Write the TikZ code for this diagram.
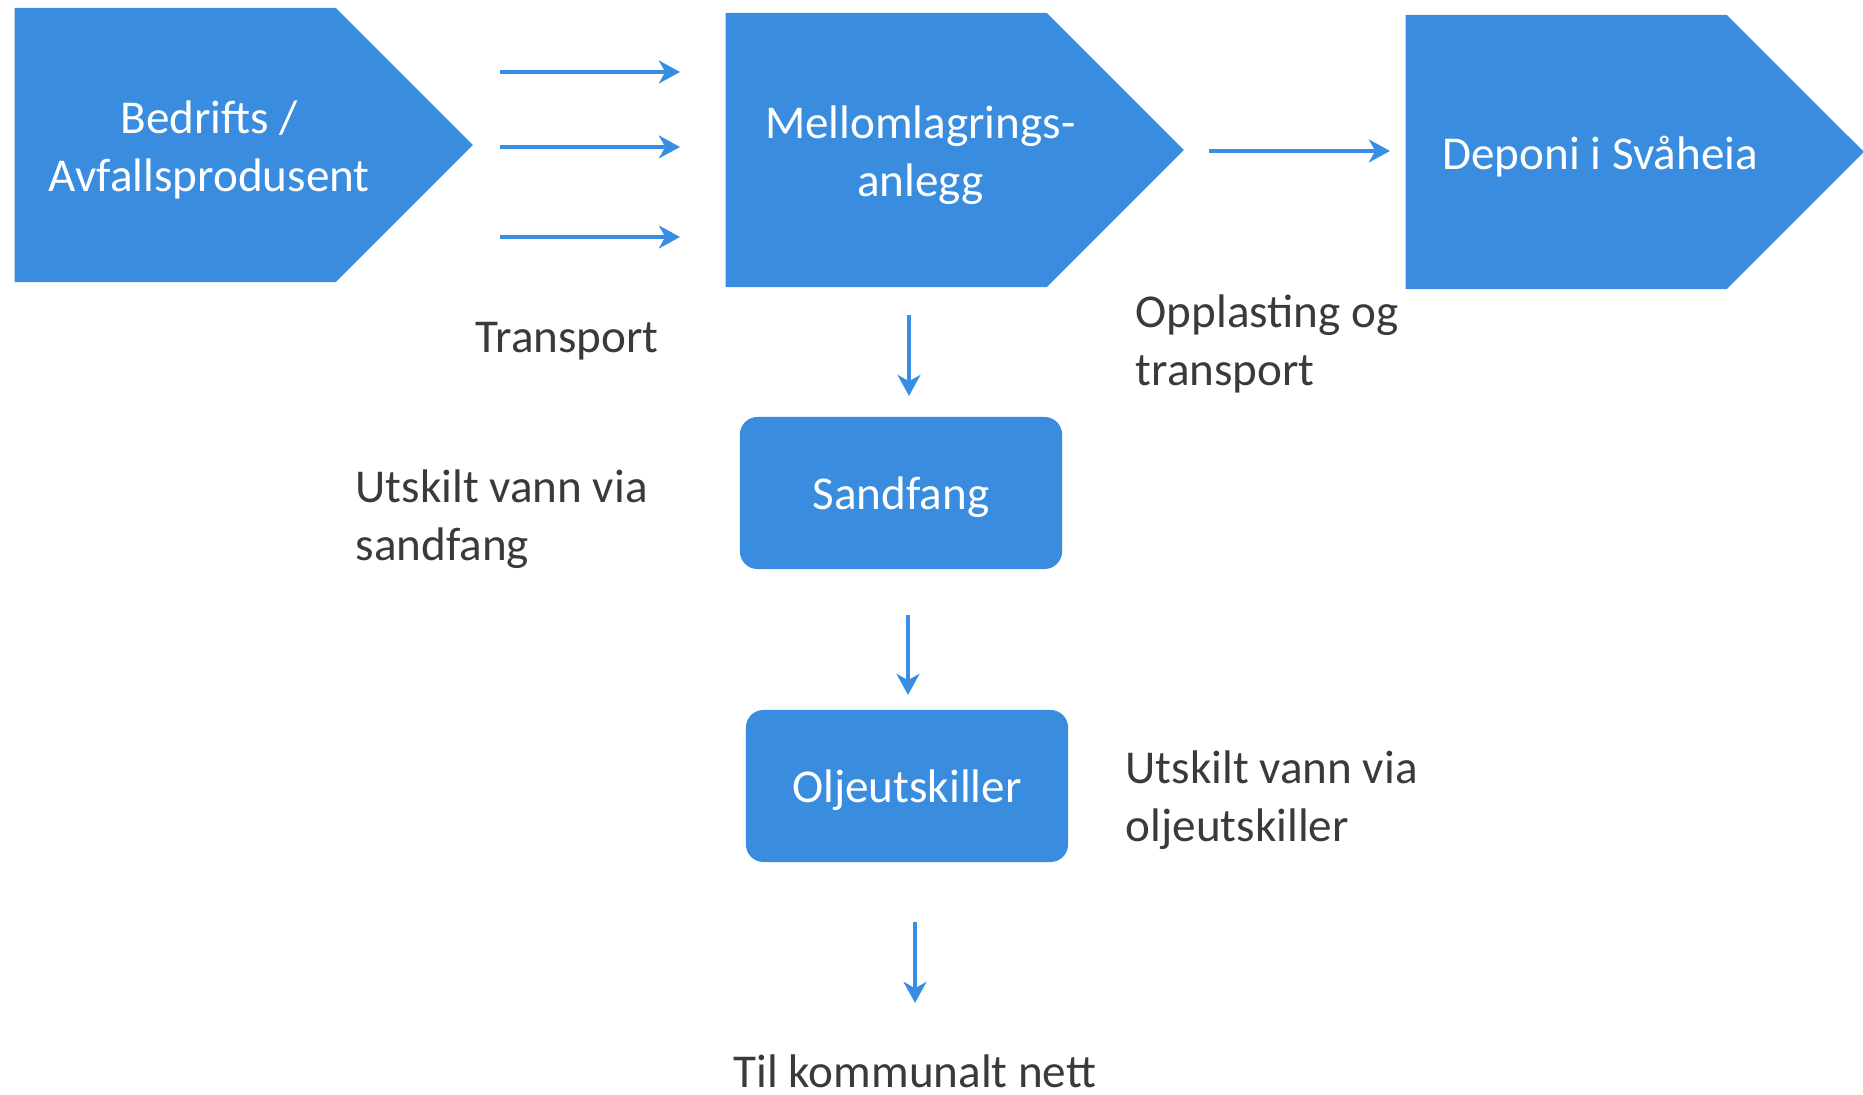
\documentclass[tikz,border=0pt]{standalone}
\usepackage{fontspec}
\setmainfont{Carlito}
\usetikzlibrary{shapes.symbols, arrows.meta}

\definecolor{boksblaa}{RGB}{58,141,222}
\definecolor{pilblaa}{RGB}{56,142,226}
\definecolor{tekstgraa}{RGB}{58,58,58}

\begin{document}
\begin{tikzpicture}[
    x=0.01cm, y=-0.01cm,
    prosess/.style={signal, signal to=east, signal pointer angle=90, fill=boksblaa, draw=none,
        minimum width=4.58cm, minimum height=2.74cm, inner sep=0pt, anchor=west},
    % tekst i pilformene sitter litt mot spissen
    piltekst/.style={text=white, align=center, xshift=0.34cm, yshift=-0.05cm, inner sep=0pt},
    kammer/.style={rectangle, rounded corners=5pt, fill=boksblaa, draw=none,
        minimum width=3.22cm, minimum height=1.52cm, text=white, text depth=0pt},
    flyt/.style={-{Stealth[length=6pt, width=6.5pt, inset=1.8pt]}, pilblaa, line width=1.2pt},
    % Style for de svarte tekstene
    etikett/.style={text=tekstgraa, align=left, anchor=base west, inner sep=0pt}
]
\tikzstyle{every node}=[font=\fontsize{13.4}{16.5}\selectfont]

\useasboundingbox (0,0) rectangle (1863,1095);

% --- PILFORMER ---
\node[prosess, label={[piltekst]center:Bedrifts /\\Avfallsprodusent}] (bedrift) at (14,145) {};
\node[prosess, label={[piltekst]center:Mellomlagrings-\\anlegg}] (mellomlager) at (725,150) {};
\node[prosess, label={[piltekst]center:Deponi i Svåheia}] (deponi) at (1405,152) {};

% --- KAMRE ---
\node[kammer] (sandfang) at (901,493) {Sandfang};
\node[kammer] (olje) at (907,786) {Oljeutskiller};

% --- TRANSPORT ---
\foreach \y [count=\i] in {72,147,237} {
    \coordinate (t\i-fra) at (500,\y);
    \coordinate (t\i-til) at (680,\y);
    \draw[flyt] (t\i-fra) -- (t\i-til);
}

\coordinate (dep-fra) at (1209,151);
\coordinate (dep-til) at (1390,151);
\draw[flyt] (dep-fra) -- (dep-til);

% --- NEDOVER ---
\coordinate (ned1-fra) at (909,315);
\coordinate (ned1-til) at (909,396);
\coordinate (ned2-fra) at (908,615);
\coordinate (ned2-til) at (908,695);
\coordinate (ned3-fra) at (915,922);
\coordinate (ned3-til) at (915,1003);
\foreach \i in {1,2,3}
    \draw[flyt] (ned\i-fra) -- (ned\i-til);

% --- TEKSTER ---
% base ligger paa siste linje
\node[etikett] (transport) at (475,353) {Transport};
\node[etikett] (opplasting) at (1135,386) {Opplasting og\\transport};
\node[etikett] (vann-sand) at (355,561) {Utskilt vann via\\sandfang};
\node[etikett] (vann-olje) at (1125,842) {Utskilt vann via\\oljeutskiller};
\node[text=tekstgraa, anchor=base, inner sep=0pt] (nett) at (915,1088) {Til kommunalt nett};

\end{tikzpicture}
\end{document}
